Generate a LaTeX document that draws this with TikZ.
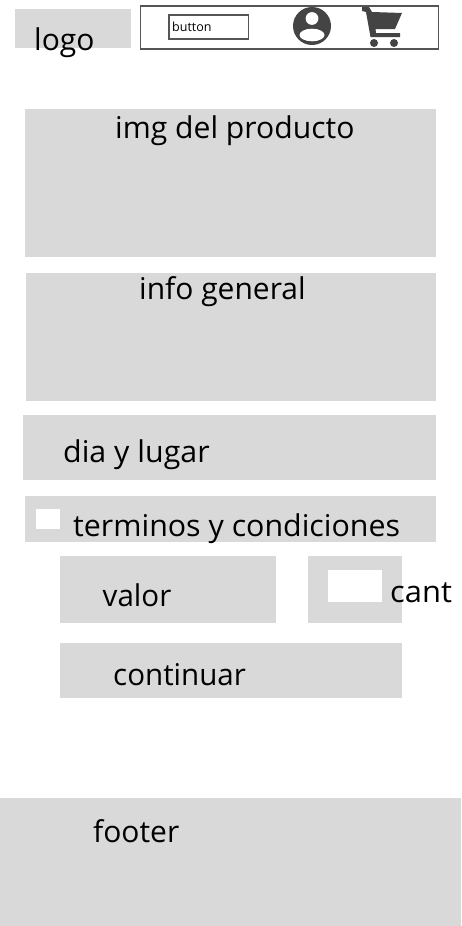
\documentclass[tikz,border=0pt]{standalone}
\usepackage{fontspec}
\setmainfont{Open Sans}
\definecolor{blockgray}{HTML}{D9D9D9}
\definecolor{iconcol}{HTML}{444444}
\definecolor{linecol}{HTML}{555555}
\tikzset{
  block/.style={fill=blockgray,draw=none,inner sep=0pt},
  hole/.style={fill=white,draw=none,inner sep=0pt},
  lbl/.style={anchor=base west,inner sep=0pt,font=\fontsize{30}{36}\selectfont,text=black},
  frame/.style={draw=linecol,line width=1.4pt,fill=white},
}
\begin{document}
\begin{tikzpicture}[x=1pt,y=-1pt]
\useasboundingbox (0,0) rectangle (461,926);
\fill[white] (0,0) rectangle (461,926);
% blocks
\path[block] (15,9) rectangle (131,48);
\path[block] (25,109) rectangle (436,257);
\path[block] (26,273) rectangle (436,401);
\path[block] (23,415) rectangle (436,480);
\path[block] (25,496) rectangle (436,542);
\path[hole] (36,509) rectangle (60,529);
\path[block] (60,556) rectangle (276,623);
\path[block] (308,556) rectangle (402,623);
\path[hole] (328,570) rectangle (382,602);
\path[block] (60,643) rectangle (402,698);
\path[block] (0,798) rectangle (461,926);
% header
\path[frame] (140.5,6) rectangle (438.5,49);
\draw[draw=linecol,line width=1.2pt] (169,15) rectangle (248.5,39);
\node[anchor=base west,inner sep=0pt,font=\fontsize{12.5}{14}\selectfont] (btn) at (172,31) {button};
% user icon
\fill[iconcol] (312,26) circle (19);
\fill[white] (312,18.5) circle (6.4);
\fill[white] (312,35) ellipse (12.5 and 6.3);
% cart icon
\fill[iconcol] (362,7) -- (369,7) -- (372,12) -- (402,13) -- (395,29) -- (375.5,29) -- (376,33) -- (400,33) -- (400,37) -- (370.5,37) -- (366,12) -- (362,11) -- cycle;
\fill[iconcol] (374,43) circle (4);
\fill[iconcol] (394,43) circle (4);
% labels
\node[lbl] (logo) at (34,50) {logo};
\node[lbl,xscale=1.004,transform shape] (img) at (115,138) {img del producto};
\node[lbl] (info) at (139,299) {info general};
\node[lbl,xscale=1.012,transform shape] (dia) at (63,462) {dia y lugar};
\node[lbl,xscale=1.012,transform shape] (term) at (73,536) {terminos y condiciones};
\node[lbl,xscale=0.985,transform shape] (valor) at (102.5,606) {valor};
\node[lbl,xscale=1.03,transform shape] (cant) at (390,602) {cant};
\node[lbl,xscale=0.985,transform shape] (cont) at (113,685) {continuar};
\node[lbl] (foot) at (93,842) {footer};
\end{tikzpicture}
\end{document}
